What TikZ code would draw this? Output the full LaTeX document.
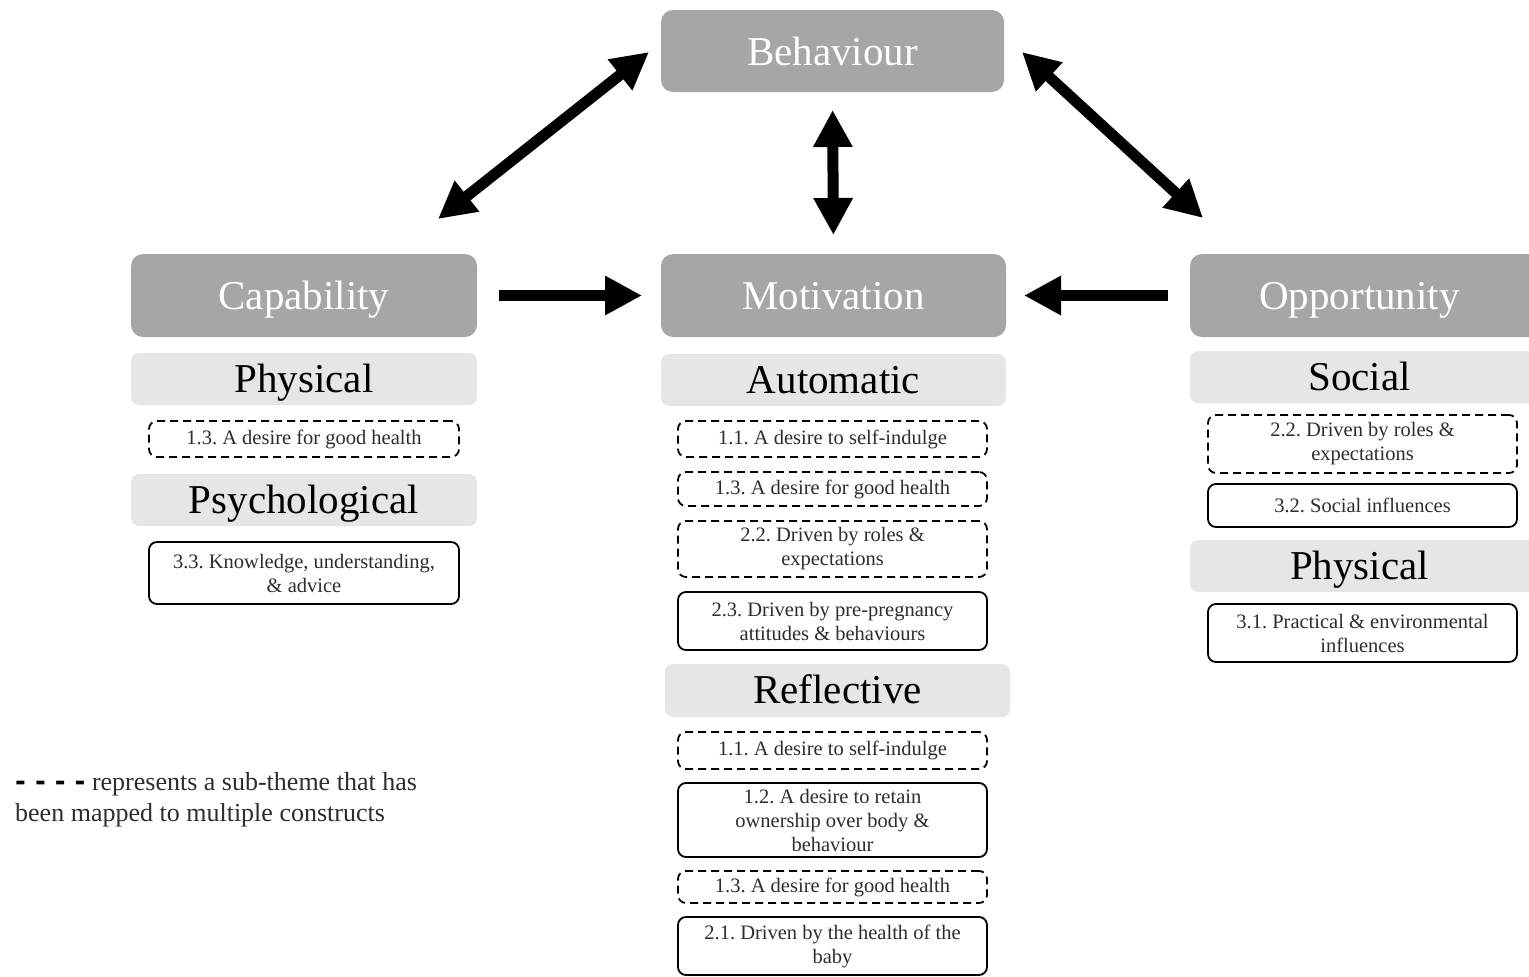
\documentclass[tikz,border=0pt]{standalone}
\usepackage{fontspec}
\setmainfont{Liberation Serif}
\newfontfamily\dashfont{DejaVu Sans}
\usetikzlibrary{arrows.meta,backgrounds}
\frenchspacing

\definecolor{headgray}{RGB}{166,166,166}
\definecolor{subgray}{RGB}{230,230,230}
\definecolor{txtgray}{RGB}{45,45,45}

\tikzset{
  mainbox/.style={draw=none, fill=headgray, rounded corners=12pt, anchor=north west,
    inner sep=0pt, outer sep=0pt, align=center, text=white,
    text height=36pt, text depth=8pt,
    font=\fontsize{41}{46}\selectfont},
  subhead/.style={draw=none, fill=subgray, rounded corners=8pt, anchor=north west,
    inner sep=0pt, outer sep=0pt, align=center, text=black,
    text height=34pt, text depth=8pt,
    font=\fontsize{41}{44}\selectfont},
  theme/.style={draw=black, line width=1.8pt, rounded corners=8pt, anchor=north west,
    inner sep=0pt, outer sep=0pt, align=center, text=txtgray,
    font=\fontsize{20.5}{24}\selectfont},
  shared/.style={theme, dash pattern=on 8pt off 5pt},
  bigarrow/.style={line width=11pt, -{Triangle[length=37pt,width=37pt]}},
  twoway/.style={line width=11pt, {Triangle[length=37pt,width=37pt]}-{Triangle[length=37pt,width=37pt]}}
}

\begin{document}
\begin{tikzpicture}[x=1pt, y=-1pt]
\useasboundingbox (0,0) rectangle (1529,977);

% COM-B constructs
\node[mainbox, minimum width=343pt, minimum height=82pt] (beh) at (661,10) {Behaviour};
\node[mainbox, minimum width=346pt, minimum height=83pt] (cap) at (131,254) {Capability};
\node[mainbox, minimum width=345pt, minimum height=83pt] (mot) at (661,254) {Motivation};
\node[mainbox, fill=none, minimum width=339pt, minimum height=83pt] (opp) at (1190,254) {Opportunity};

% Capability column
\node[subhead, minimum width=346pt, minimum height=52pt] (capphys) at (131,353) {Physical};
\node[shared, minimum width=310pt, minimum height=36pt] (c13) at (149,421) {1.3. A desire for good health};
\node[subhead, minimum width=346pt, minimum height=52pt] (cappsy) at (131,474) {Psychological};
\node[theme, minimum width=310pt, minimum height=62pt] (c33) at (149,542) {3.3. Knowledge, understanding,\\ \& advice};

% Motivation column
\node[subhead, minimum width=345pt, minimum height=52pt] (motaut) at (661,354) {Automatic};
\node[shared, minimum width=309pt, minimum height=36pt] (a11) at (678,421) {1.1. A desire to self-indulge};
\node[shared, minimum width=309pt, minimum height=34pt] (a13) at (678,472) {1.3. A desire for good health};
\node[shared, minimum width=309pt, minimum height=56pt] (a22) at (678,521) {2.2. Driven by roles \&\\ expectations};
\node[theme, minimum width=309pt, minimum height=58pt] (a23) at (678,592) {2.3. Driven by pre-pregnancy\\ attitudes \& behaviours};
\node[subhead, minimum width=345pt, minimum height=53pt] (motref) at (665,664) {Reflective};
\node[shared, minimum width=309pt, minimum height=37pt] (r11) at (678,732) {1.1. A desire to self-indulge};
\node[theme, minimum width=309pt, minimum height=74pt] (r12) at (678,783) {1.2. A desire to retain\\ ownership over body \&\\ behaviour};
\node[shared, minimum width=309pt, minimum height=32pt] (r13) at (678,871) {1.3. A desire for good health};
\node[theme, minimum width=309pt, minimum height=58pt] (r21) at (678,917) {2.1. Driven by the health of the\\ baby};

% Opportunity column (boxes run off the right edge)
\node[subhead, fill=none, minimum width=339pt, minimum height=52pt] (oppsoc) at (1190,351) {Social};
\node[shared, minimum width=309pt, minimum height=58pt] (o22) at (1208,415) {2.2. Driven by roles \&\\ expectations};
\node[theme, minimum width=309pt, minimum height=43pt] (o32) at (1208,484) {3.2. Social influences};
\node[subhead, fill=none, minimum width=339pt, minimum height=52pt] (oppphys) at (1190,540) {Physical};
\node[theme, minimum width=309pt, minimum height=58pt] (o31) at (1208,604) {3.1. Practical \& environmental\\ influences};

\begin{scope}[on background layer]
  \fill[headgray, rounded corners=12pt] (opp.north west) rectangle ([xshift=20pt]opp.south east);
  \fill[subgray, rounded corners=8pt] (oppsoc.north west) rectangle ([xshift=20pt]oppsoc.south east);
  \fill[subgray, rounded corners=8pt] (oppphys.north west) rectangle ([xshift=20pt]oppphys.south east);
\end{scope}

% Links between constructs
\coordinate (bcA) at (649,52);
\coordinate (bcB) at (438,219);
\coordinate (boA) at (1022,52);
\coordinate (boB) at (1203,218);
\draw[twoway] (bcA) -- (bcB);
\draw[twoway] (boA) -- (boB);
\draw[twoway, shorten <=18pt, shorten >=19pt] (beh.south) -- (mot.north);
\draw[bigarrow, shorten <=22pt, shorten >=19pt] (cap.east) -- (mot.west);
\draw[bigarrow, shorten <=22pt, shorten >=18pt] (opp.west) -- (mot.east);

% Legend
\node[anchor=west, inner sep=0pt, align=left, text=txtgray,
      font=\fontsize{26}{31}\selectfont] (legend) at (15,800)
  {{\dashfont\bfseries\color{black}- - - -} represents a sub-theme that has\\ been mapped to multiple constructs};
\end{tikzpicture}
\end{document}
